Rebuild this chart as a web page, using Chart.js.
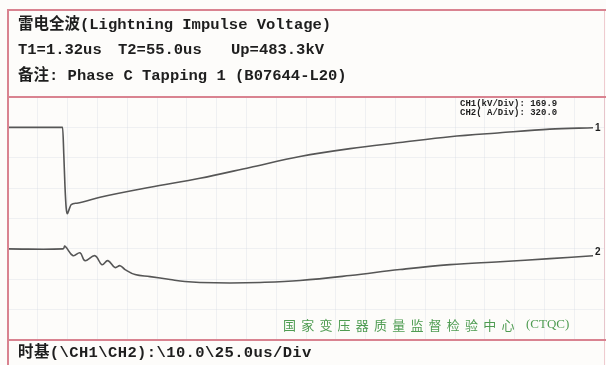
<!DOCTYPE html>
<html>
<head>
<meta charset="utf-8">
<script src="https://cdn.jsdelivr.net/npm/chart.js@4.4.1/dist/chart.umd.min.js"></script>
<style>
  html, body { margin: 0; padding: 0; background: #fdfcfa; }
  canvas { display: block; }
</style>
</head>
<body>
<canvas id="scope" width="606" height="365"></canvas>
<script>
// Time base (µs) and channel readings
const timeUs   = [0, 22.9, 23.4, 23.9, 24.4, 24.9, 25.6, 26.5, 28.9, 38.6, 59.6, 80.5, 101.5, 122.5, 143.5, 164.4, 185.4, 206.4, 227.3, 245.4];
const ch1Kv    = [0, 0, -150, -330, -450, -483.3, -460, -432, -424, -391, -335, -285, -224, -163, -119, -85, -52, -30, -10, -2];

const timeUs2  = [0, 23.1, 23.9, 27.3, 30.2, 32.3, 36.5, 39.4, 41.9, 44.9, 47.0, 49.1, 53.3, 59.6, 68.0, 74.2, 80.5, 93.1, 105.7, 122.5, 143.5, 164.4, 185.4, 206.4, 227.3, 245.4];
const ch2Amp   = [0, 0, 29, -72, -41, -124, -72, -166, -124, -197, -177, -218, -271, -292, -323, -344, -354, -359, -354, -333, -281, -218, -166, -135, -103, -72];

const kvPerDiv = 169.9;
const ampPerDiv = 320.0;
const usPerDiv = 25.0;
const xDivs = 10, yDivs = 8;
const ch1ZeroDiv = 7, ch2ZeroDiv = 3;

const titleText   = '雷电全波(Lightning Impulse Voltage)';
const paramTexts  = ['T1=1.32us', 'T2=55.0us', 'Up=483.3kV'];
const noteText    = '备注: Phase C Tapping 1 (B07644-L20)';
const scaleTexts  = ['CH1(kV/Div): 169.9', 'CH2( A/Div): 320.0'];
const labTexts    = '国家变压器质量监督检验中心(CTQC)';
const baseText    = '时基(\\CH1\\CH2):\\10.0\\25.0us/Div';
const traceNames  = ['1', '2'];

const frameColor = '#d98390';
const gridColor = 'rgba(190,200,215,0.22)';
const traceColor = '#565656';
const monoBold = 'bold 15.5px "Liberation Mono", "Noto Sans CJK SC", monospace';

const pts = (xs, ys) => xs.map((x, i) => ({ x, y: ys[i] }));

const framePlugin = {
  id: 'scopeFrame',
  afterDraw(chart) {
    const ctx = chart.ctx;
    const a = chart.chartArea;
    ctx.save();
    // frame lines
    ctx.strokeStyle = frameColor;
    ctx.lineWidth = 2;
    ctx.beginPath();
    ctx.moveTo(8, 365); ctx.lineTo(8, 10); ctx.lineTo(606, 10);
    ctx.moveTo(8, a.top); ctx.lineTo(606, a.top);
    ctx.moveTo(8, a.bottom); ctx.lineTo(606, a.bottom);
    ctx.stroke();
    ctx.lineWidth = 1;
    ctx.strokeStyle = 'rgba(217,131,144,0.4)';
    ctx.beginPath(); ctx.moveTo(604.5, 10); ctx.lineTo(604.5, 365); ctx.stroke();

    // header text
    ctx.fillStyle = '#1e1e1e';
    ctx.textBaseline = 'middle';
    ctx.font = monoBold;
    ctx.fillText(titleText, 18, 25);
    ctx.fillText(paramTexts[0], 18, 50);
    ctx.fillText(paramTexts[1], 118, 50);
    ctx.fillText(paramTexts[2], 231, 50);
    ctx.fillText(noteText, 18, 76);
    if ('letterSpacing' in ctx) ctx.letterSpacing = '0.4px';
    ctx.fillText(baseText, 18, 353);
    if ('letterSpacing' in ctx) ctx.letterSpacing = '0px';

    // channel scale box
    ctx.font = 'bold 9px "Liberation Mono", monospace';
    ctx.fillText(scaleTexts[0], 460, 104);
    ctx.fillText(scaleTexts[1], 460, 113);

    // trace markers at right edge
    ctx.font = 'bold 10px "Liberation Sans", sans-serif';
    const last1 = chart.getDatasetMeta(0).data.at(-1);
    const last2 = chart.getDatasetMeta(1).data.at(-1);
    ctx.fillText(traceNames[0], 595, last1.y + 1);
    ctx.fillText(traceNames[1], 595, last2.y - 3);

    // lab name
    ctx.fillStyle = '#4f9c52';
    ctx.font = '13px "Noto Sans CJK SC", sans-serif';
    if ('letterSpacing' in ctx) ctx.letterSpacing = '5.2px';
    ctx.fillText(labTexts.slice(0, 13), 283, 325);
    if ('letterSpacing' in ctx) ctx.letterSpacing = '0px';
    ctx.font = '13px "Liberation Serif", serif';
    ctx.fillText(labTexts.slice(13), 526, 325);
    ctx.restore();
  }
};

new Chart(document.getElementById('scope'), {
  type: 'line',
  data: {
    datasets: [
      { label: 'CH1', data: pts(timeUs, ch1Kv), xAxisID: 'x', yAxisID: 'y',
        borderColor: traceColor, borderWidth: 1.6, pointRadius: 0,
        cubicInterpolationMode: 'monotone', fill: false },
      { label: 'CH2', data: pts(timeUs2, ch2Amp), xAxisID: 'x', yAxisID: 'y2',
        borderColor: traceColor, borderWidth: 1.6, pointRadius: 0,
        tension: 0.4, fill: false }
    ]
  },
  options: {
    responsive: false,
    animation: false,
    events: [],
    layout: { padding: { left: 8, right: 2, top: 97, bottom: 25 } },
    plugins: { legend: { display: false }, tooltip: { enabled: false } },
    scales: {
      x: {
        type: 'linear', min: 0, max: usPerDiv * xDivs,
        ticks: { display: false },
        border: { display: false },
        grid: { color: gridColor, lineWidth: 1, drawTicks: false, tickLength: 0 },
        afterBuildTicks: s => { s.ticks = Array.from({ length: xDivs * 2 + 1 }, (_, i) => ({ value: i * usPerDiv / 2 })); }
      },
      y: {
        type: 'linear', min: -ch1ZeroDiv * kvPerDiv, max: (yDivs - ch1ZeroDiv) * kvPerDiv,
        ticks: { display: false },
        border: { display: false },
        grid: { color: gridColor, lineWidth: 1, drawTicks: false, tickLength: 0 },
        afterBuildTicks: s => { s.ticks = Array.from({ length: yDivs + 1 }, (_, i) => ({ value: (i - ch1ZeroDiv) * kvPerDiv })); }
      },
      y2: {
        type: 'linear', display: false,
        min: -ch2ZeroDiv * ampPerDiv, max: (yDivs - ch2ZeroDiv) * ampPerDiv
      }
    }
  },
  plugins: [framePlugin]
});
</script>
</body>
</html>
